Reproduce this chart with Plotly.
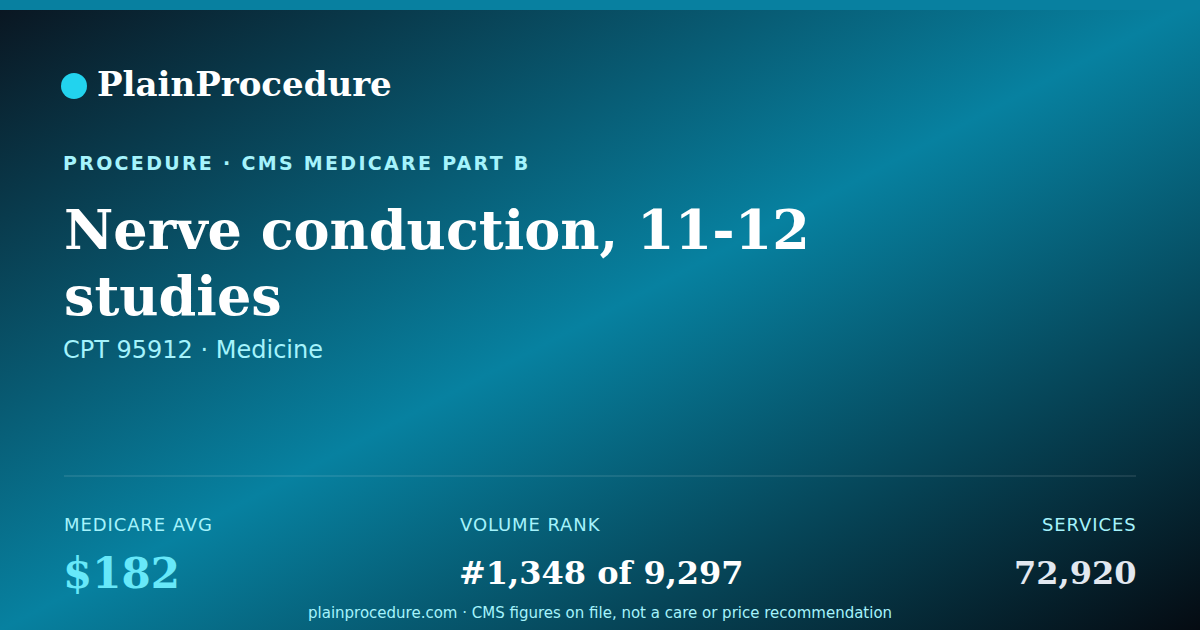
import base64
import plotly.graph_objects as go

W, H = 1200, 630

BRAND = "PlainProcedure"
KICKER = "PROCEDURE · CMS MEDICARE PART B"
TITLE_LINES = ["Nerve conduction, 11-12", "studies"]
SUBTITLE = "CPT 95912 · Medicine"
STAT_LABELS = ["MEDICARE AVG", "VOLUME RANK", "SERVICES"]
STAT_VALUES = ["$182", "#1,348 of 9,297", "72,920"]
FOOTER = "plainprocedure.com · CMS figures on file, not a care or price recommendation"

SERIF = "DejaVu Serif"
SANS = "DejaVu Sans"

# background gradient, drawn as an svg image behind everything
svg = f"""<svg xmlns='http://www.w3.org/2000/svg' width='{W}' height='{H}'>
<defs><linearGradient id='g' x1='0' y1='0' x2='1' y2='1'>
<stop offset='0' stop-color='#0a1520'/>
<stop offset='0.5' stop-color='#0781a0'/>
<stop offset='1' stop-color='#050b12'/>
</linearGradient></defs>
<rect width='{W}' height='{H}' fill='url(#g)'/>
</svg>"""
bg = "data:image/svg+xml;base64," + base64.b64encode(svg.encode()).decode()

fig = go.Figure()

fig.add_layout_image(
    source=bg, xref="paper", yref="paper", x=0, y=1,
    sizex=1, sizey=1, sizing="stretch", layer="below",
)

# top bar
fig.add_shape(type="rect", x0=0, x1=W, y0=0, y1=10,
              fillcolor="#0880a0", line_width=0, layer="below")
# divider
fig.add_shape(type="line", x0=64, x1=1136, y0=476, y1=476,
              line=dict(color="rgba(255,255,255,0.18)", width=1))
# brand dot
fig.add_shape(type="circle", x0=61, x1=87, y0=73, y1=99,
              fillcolor="#22d3ee", line_width=0)


def text(s, x, y, size, color, family=SANS, weight=400, xanchor="left", spacing=0):
    if spacing:
        s = f'<span style="letter-spacing:{spacing}px">{s}</span>'
    fig.add_annotation(
        text=s, x=x, y=y, xref="x", yref="y", showarrow=False,
        xanchor=xanchor, yanchor="middle", align=xanchor,
        font=dict(family=family, size=size, color=color, weight=weight),
    )


text(BRAND, 95, 84, 34, "#ffffff", SERIF, 700)
text(KICKER, 61, 163, 19, "#a5f3fc", SANS, 700, spacing=2.3)
text(TITLE_LINES[0], 62, 230, 54, "#ffffff", SERIF, 700)
text(TITLE_LINES[1], 62, 296, 54, "#ffffff", SERIF, 700)
text(SUBTITLE, 61, 350, 24, "#a5f3fc")

label_x = [62, 458, 1139]
value_x = [61, 457, 1138]
anchors = ["left", "left", "right"]
value_sizes = [42, 32, 32]
value_colors = ["#67e8f9", "#ffffff", "#e2e8f0"]
for i in range(3):
    text(STAT_LABELS[i], label_x[i], 524, 18, "#a5f3fc", xanchor=anchors[i], spacing=0.9)
    text(STAT_VALUES[i], value_x[i], 573, value_sizes[i], value_colors[i],
         SERIF, 700, xanchor=anchors[i])

text(FOOTER, 600, 613, 15, "#a5f3fc", xanchor="center")

fig.update_xaxes(range=[0, W], visible=False, fixedrange=True)
fig.update_yaxes(range=[H, 0], visible=False, fixedrange=True)
fig.update_layout(
    width=W, height=H,
    margin=dict(l=0, r=0, t=0, b=0),
    paper_bgcolor="#0a1520", plot_bgcolor="rgba(0,0,0,0)",
    showlegend=False,
)

fig.write_html(
    "out.html",
    config={"displayModeBar": False},
    post_script="document.body.style.margin='0';document.body.style.overflow='hidden';",
)
